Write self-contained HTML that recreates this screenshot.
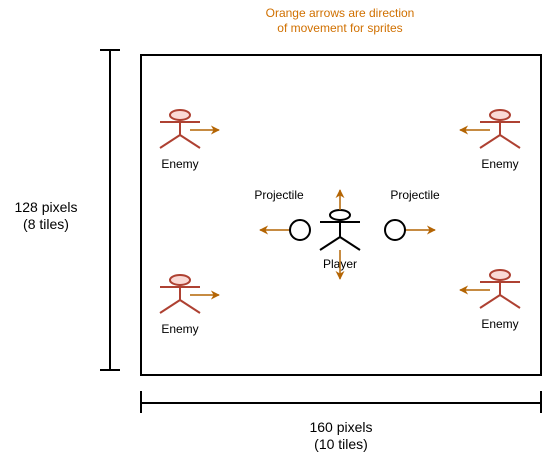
<!DOCTYPE html>
<html><head><meta charset="utf-8"><style>body{margin:0;background:#fff}svg{display:block;font-family:"Liberation Sans",sans-serif}</style></head>
<body>
<svg width="542" height="461" viewBox="0 0 542 461">
<defs><marker id="ah" viewBox="0 0 10 10" refX="9" refY="5" markerWidth="6" markerHeight="6" markerUnits="strokeWidth" orient="auto"><path d="M0,0L10,5L0,10L3,5z" fill="#b46504"/></marker></defs>
<text x="340" y="17" font-size="12" fill="#d07000" text-anchor="middle">Orange arrows are direction</text>
<text x="340" y="32" font-size="12" fill="#d07000" text-anchor="middle">of movement for sprites</text>
<rect x="141" y="55" width="400" height="320" fill="none" stroke="#000" stroke-width="2"/>
<g stroke="#000" stroke-width="2"><line x1="110" y1="50" x2="110" y2="370"/><line x1="100" y1="50" x2="120" y2="50"/><line x1="100" y1="370" x2="120" y2="370"/></g>
<text x="46" y="212" font-size="14" text-anchor="middle">128 pixels</text>
<text x="46" y="229" font-size="14" text-anchor="middle">(8 tiles)</text>
<g stroke="#000" stroke-width="2"><line x1="141" y1="403" x2="541" y2="403"/><line x1="141" y1="391" x2="141" y2="413"/><line x1="541" y1="391" x2="541" y2="413"/></g>
<text x="341" y="432" font-size="14" text-anchor="middle">160 pixels</text>
<text x="341" y="449" font-size="14" text-anchor="middle">(10 tiles)</text>
<g id="enemies"></g>
<g stroke="#000" stroke-width="2" fill="none">
<ellipse cx="340" cy="215" rx="10" ry="5"/><line x1="320" y1="222" x2="360" y2="222"/><line x1="340" y1="220" x2="340" y2="237"/><line x1="340" y1="237" x2="320" y2="250"/><line x1="340" y1="237" x2="360" y2="250"/></g>
<text x="340" y="268" font-size="12" text-anchor="middle">Player</text>
<g stroke="#b46504" stroke-width="1.5" marker-end="url(#ah)">
<line x1="340" y1="210" x2="340" y2="190"/><line x1="340" y1="250" x2="340" y2="279"/>
<line x1="290" y1="230" x2="260" y2="230"/><line x1="405" y1="230" x2="435" y2="230"/>
<line x1="190" y1="130" x2="219" y2="130"/><line x1="490" y1="130" x2="460" y2="130"/>
<line x1="190" y1="295" x2="219" y2="295"/><line x1="490" y1="290" x2="460" y2="290"/></g>
<circle cx="300" cy="230" r="10" fill="#fff" stroke="#000" stroke-width="2"/>
<circle cx="395" cy="230" r="10" fill="#fff" stroke="#000" stroke-width="2"/>
<text x="279" y="199" font-size="12" text-anchor="middle">Projectile</text>
<text x="415" y="199" font-size="12" text-anchor="middle">Projectile</text>
</svg>
<script>
const enemyX=[180,500,180,500];
const enemyY=[115,115,280,275];
const g=document.getElementById('enemies');
const ns='http://www.w3.org/2000/svg';
for(let i=0;i<enemyX.length;i++){
  const x=enemyX[i],y=enemyY[i];
  const e=document.createElementNS(ns,'g');
  
  
  e.innerHTML=`<g stroke="#ae4132" stroke-width="2" fill="none"><ellipse cx="${x}" cy="${y}" rx="10" ry="5" fill="#fad9d5"/><line x1="${x-20}" y1="${y+7}" x2="${x+20}" y2="${y+7}"/><line x1="${x}" y1="${y+5}" x2="${x}" y2="${y+20}"/><line x1="${x}" y1="${y+20}" x2="${x-20}" y2="${y+33}"/><line x1="${x}" y1="${y+20}" x2="${x+20}" y2="${y+33}"/></g><text x="${x}" y="${y+53}" font-size="12" text-anchor="middle">Enemy</text>`;
  g.appendChild(e);
}
</script>
</body></html>
